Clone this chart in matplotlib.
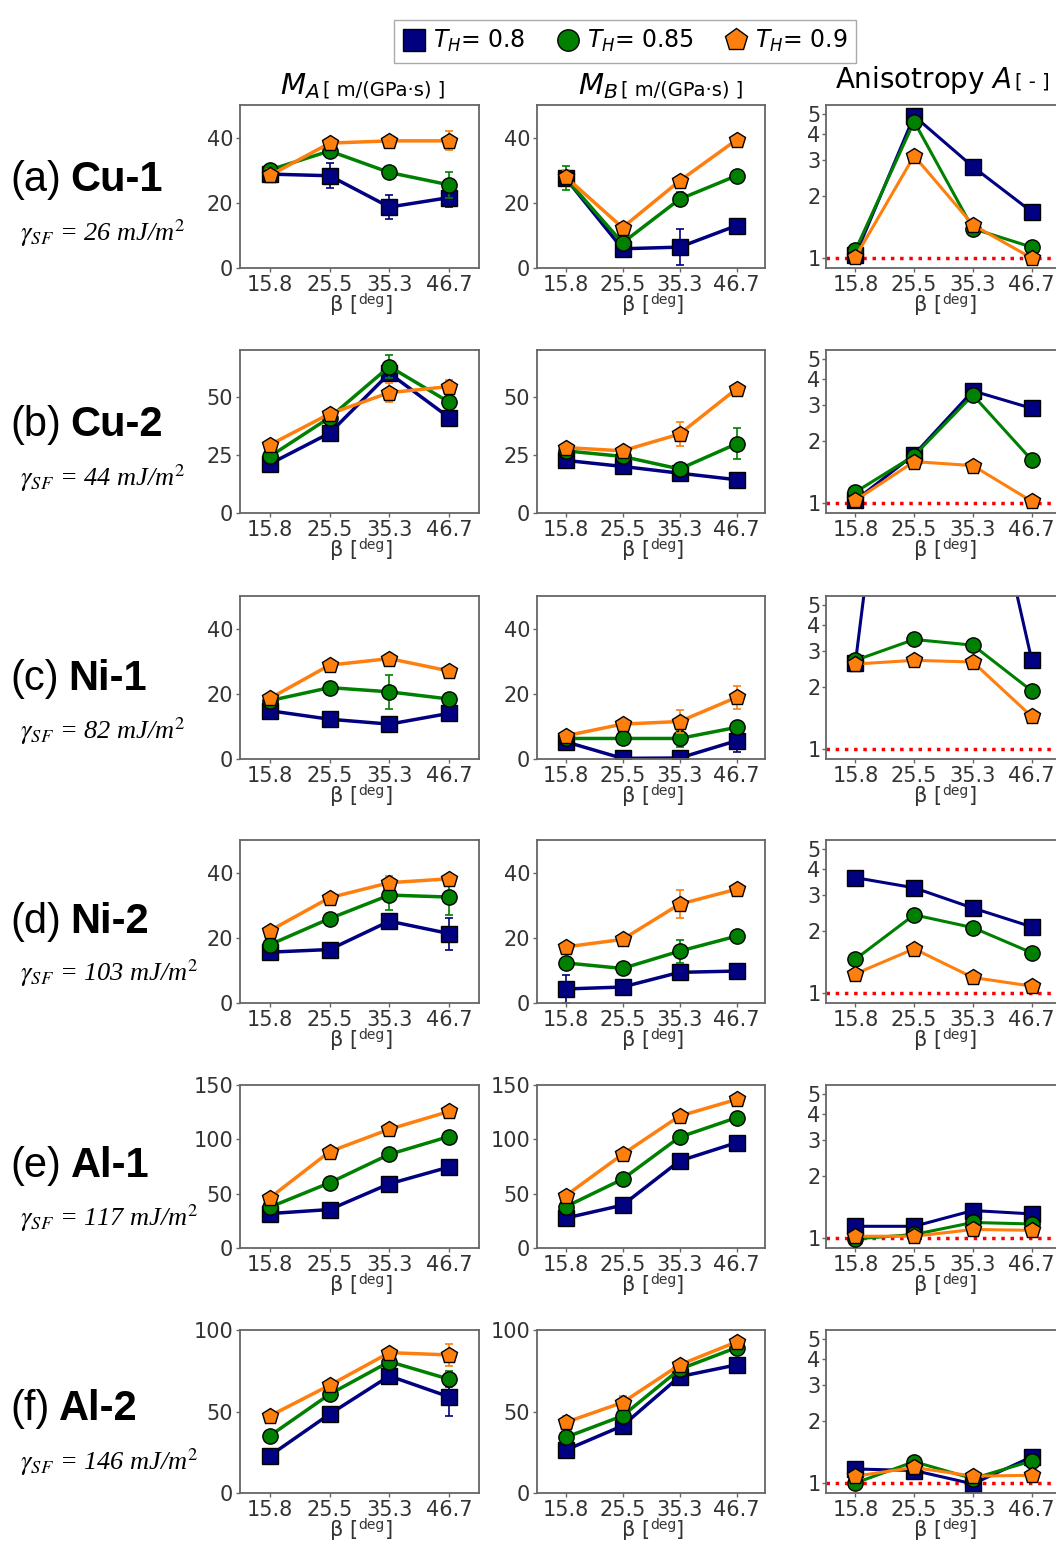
import matplotlib.pyplot as plt
from matplotlib.lines import Line2D
from matplotlib.text import Annotation
from matplotlib.ticker import NullFormatter, NullLocator
from matplotlib.transforms import offset_copy
import numpy as np

plt.rcParams['mathtext.fontset'] = 'dejavusans'

# categories
beta_labels = ['15.8', '25.5', '35.3', '46.7']
th_labels = ['$T_H$= 0.8', '$T_H$= 0.85', '$T_H$= 0.9']
samples = ['Cu-1', 'Cu-2', 'Ni-1', 'Ni-2', 'Al-1', 'Al-2']
tags = ['(a)', '(b)', '(c)', '(d)', '(e)', '(f)']
gamma_sf = [26, 44, 82, 103, 117, 146]

# M_A [m/(GPa s)], rows: T_H = 0.8, 0.85, 0.9
ma_vals = {
    'Cu-1': [[28.8, 28.3, 18.7, 21.6], [30.1, 35.9, 29.3, 25.5], [28.4, 38.3, 39.0, 39.0]],
    'Cu-2': [[21.1, 34.3, 60.0, 41.0], [24.3, 41.0, 62.9, 47.6], [29.3, 42.6, 51.7, 54.3]],
    'Ni-1': [[14.8, 12.2, 10.7, 14.0], [17.9, 21.9, 20.6, 18.4], [18.6, 28.8, 30.8, 27.0]],
    'Ni-2': [[15.6, 16.4, 25.1, 21.3], [17.9, 25.9, 33.1, 32.5], [22.2, 32.3, 36.9, 38.1]],
    'Al-1': [[31.7, 35.4, 59.1, 74.5], [37.6, 60.0, 86.2, 102.6], [46.2, 88.7, 109.3, 125.7]],
    'Al-2': [[22.9, 48.4, 71.8, 59.0], [35.1, 60.6, 80.6, 69.8], [47.3, 66.1, 86.1, 84.7]],
}
ma_errs = {
    'Cu-1': [[1.0, 3.8, 3.7, 2.8], [0, 0, 1.5, 3.9], [2.0, 0, 0, 2.9]],
    'Cu-2': [[1.5, 2.5, 3.0, 0], [2.5, 0, 5.0, 0], [0, 0, 4.0, 3.0]],
    'Ni-1': [[0, 0, 0, 0], [0, 0, 5.3, 0], [0, 0, 0, 1.5]],
    'Ni-2': [[1.5, 0, 0, 4.9], [1.8, 0, 4.5, 5.5], [0, 0, 2.0, 0]],
    'Al-1': [[0, 0, 0, 0], [0, 0, 0, 0], [0, 0, 0, 0]],
    'Al-2': [[0, 0, 0, 12.0], [0, 0, 0, 5.0], [0, 0, 0, 6.5]],
}

# M_B [m/(GPa s)]
mb_vals = {
    'Cu-1': [[27.6, 5.9, 6.4, 13.0], [27.6, 7.7, 21.1, 28.3], [28.0, 12.4, 26.7, 39.3]],
    'Cu-2': [[22.6, 20.0, 17.1, 14.3], [26.7, 24.3, 18.9, 29.7], [28.1, 26.7, 33.9, 53.3]],
    'Ni-1': [[5.3, 0.2, 0.3, 5.6], [6.3, 6.3, 6.3, 9.7], [7.1, 10.7, 11.5, 18.9]],
    'Ni-2': [[4.3, 4.9, 9.4, 9.8], [12.3, 10.6, 15.9, 20.5], [17.2, 19.5, 30.3, 34.9]],
    'Al-1': [[27.5, 39.4, 80.1, 96.9], [37.9, 63.3, 102.0, 119.9], [48.0, 86.2, 121.4, 136.7]],
    'Al-2': [[26.3, 41.2, 71.4, 78.6], [34.1, 47.3, 75.9, 89.2], [43.3, 55.5, 78.6, 92.7]],
}
mb_errs = {
    'Cu-1': [[2.0, 0, 5.6, 0], [3.6, 0, 2.2, 0], [2.0, 0, 0, 0]],
    'Cu-2': [[0, 0, 0, 3.0], [0, 0, 0, 6.6], [0, 0, 5.2, 0]],
    'Ni-1': [[0, 0, 0, 3.5], [0, 0, 2.5, 0], [0, 0, 3.5, 3.6]],
    'Ni-2': [[4.2, 0, 0, 1.0], [0, 0, 3.5, 0], [0, 0, 4.3, 0]],
    'Al-1': [[0, 0, 0, 0], [0, 0, 0, 0], [0, 0, 0, 0]],
    'Al-2': [[0, 0, 0, 0], [0, 0, 0, 0], [4.0, 4.0, 0, 0]],
}

# Anisotropy A [-]
aniso = {
    'Cu-1': [[1.03, 4.91, 2.78, 1.68], [1.09, 4.61, 1.39, 1.13], [1.01, 3.14, 1.45, 1.00]],
    'Cu-2': [[1.03, 1.72, 3.51, 2.89], [1.13, 1.70, 3.35, 1.62], [1.03, 1.59, 1.52, 1.02]],
    'Ni-1': [[2.62, 500.0, 50.0, 2.72], [2.70, 3.41, 3.20, 1.92], [2.59, 2.70, 2.65, 1.44]],
    'Ni-2': [[3.64, 3.25, 2.59, 2.10], [1.46, 2.40, 2.08, 1.57], [1.24, 1.64, 1.19, 1.08]],
    'Al-1': [[1.14, 1.14, 1.36, 1.31], [0.99, 1.04, 1.19, 1.17], [1.02, 1.02, 1.10, 1.09]],
    'Al-2': [[1.17, 1.15, 0.99, 1.34], [1.00, 1.27, 1.05, 1.28], [1.08, 1.19, 1.08, 1.09]],
}

m_ylims = [50, 70, 50, 50, 150, 100]
m_yticks = [[0, 20, 40], [0, 25, 50], [0, 20, 40], [0, 20, 40], [0, 50, 100, 150], [0, 50, 100]]

colors = ['#000080', '#008000', '#ff7f0e']
markers = ['s', 'o', 'p']
msizes = [11.5, 11, 12]

W, H = 1056, 1544
fig = plt.figure(figsize=(W / 100, H / 100), dpi=100)


def fx(px):
    return px / W


def fy(py):
    return 1 - py / H


col_x = [(240, 479), (537, 765), (826, 1061)]
row_top = [105, 350, 596, 840, 1085, 1330]
ax_h = 163
tag_base = [191, 436, 690, 933, 1177, 1420]
gam_y = [233, 478, 731, 973, 1218, 1462]

x = np.arange(len(beta_labels))


def style_axes(ax):
    for s in ax.spines.values():
        s.set_color('#666666')
        s.set_linewidth(1.3)
    ax.tick_params(axis='both', labelsize=15, labelcolor='#333333', color='#666666',
                   direction='out', length=3, width=1, pad=2, top=False, right=False)
    ax.set_xlim(-0.5, 3.5)
    ax.set_xticks(x)
    ax.set_xticklabels(beta_labels)
    # x label: β [deg] with small raised "deg"
    ax.text(0.5, 0, 'β [', ha='right', va='baseline', fontsize=15, color='#333333',
            transform=offset_copy(ax.transAxes, fig=fig, x=-1, y=-43, units='dots'))
    ax.text(0.5, 0, 'deg', ha='center', va='baseline', fontsize=10, color='#333333',
            transform=offset_copy(ax.transAxes, fig=fig, x=12, y=-36, units='dots'))
    ax.text(0.5, 0, ']', ha='left', va='baseline', fontsize=15, color='#333333',
            transform=offset_copy(ax.transAxes, fig=fig, x=25, y=-43, units='dots'))


for r, name in enumerate(samples):
    top = row_top[r]
    for c in range(3):
        x0, x1 = col_x[c]
        ax = fig.add_axes([fx(x0), fy(top + ax_h), (x1 - x0) / W, ax_h / H])
        style_axes(ax)
        if c < 2:
            vals = ma_vals[name] if c == 0 else mb_vals[name]
            errs = ma_errs[name] if c == 0 else mb_errs[name]
            for k in range(3):
                ax.errorbar(x, vals[k], yerr=errs[k], fmt='none', ecolor=colors[k],
                            elinewidth=1.2, capsize=3, capthick=1.2, zorder=2 + k)
                ax.plot(x, vals[k], color=colors[k], lw=2.5, marker=markers[k],
                        ms=msizes[k], mfc=colors[k], mec='black', mew=1, zorder=2.5 + k)
            ax.set_ylim(0, m_ylims[r])
            ax.set_yticks(m_yticks[r])
        else:
            ax.axhline(1, color='red', ls=':', lw=2.5, zorder=1)
            for k in range(3):
                ax.plot(x, aniso[name][k], color=colors[k], lw=2.2, marker=markers[k],
                        ms=msizes[k], mfc=colors[k], mec='black', mew=1, zorder=2 + k)
            ax.set_yscale('log')
            ax.set_ylim(0.894, 5.55)
            ax.yaxis.set_minor_locator(NullLocator())
            ax.yaxis.set_minor_formatter(NullFormatter())
            ax.set_yticks([1, 2, 3, 4, 5])
            ax.set_yticklabels(['1', '2', '3', '4', '5'])
            ax.tick_params(axis='y', pad=1)

    t = fig.text(fx(10), fy(tag_base[r]), tags[r], fontsize=30, family='Liberation Sans',
                 va='baseline', ha='left')
    fig.add_artist(Annotation(name, xy=(1, fy(tag_base[r])), xycoords=(t, 'figure fraction'),
                              xytext=(7, 0), textcoords='offset points', fontsize=30,
                              family='Liberation Sans', fontweight='bold',
                              va='baseline', ha='left'))
    fig.text(fx(20), fy(gam_y[r]), r'$\gamma_{SF}$ = %d mJ/m$^2$' % gamma_sf[r],
             fontsize=19, family='Liberation Serif', style='italic', va='center', ha='left',
             math_fontfamily='stix')

# column titles
fig.text(fx(320), fy(94), '$M_A$', fontsize=21, ha='right', va='baseline')
fig.text(fx(323), fy(95), '[ m/(GPa·s) ]', fontsize=14, ha='left', va='baseline')
fig.text(fx(618), fy(94), '$M_B$', fontsize=21, ha='right', va='baseline')
fig.text(fx(621), fy(95), '[ m/(GPa·s) ]', fontsize=14, ha='left', va='baseline')
fig.text(fx(835), fy(88), 'Anisotropy $A$', fontsize=20, ha='left', va='baseline')
fig.text(fx(1015), fy(88), '[ - ]', fontsize=14, ha='left', va='baseline')

handles = [Line2D([], [], ls='none', marker=markers[k], ms=msizes[k] * 1.4, mfc=colors[k],
                  mec='black', mew=1) for k in range(3)]
fig.legend(handles, th_labels, loc='upper center', bbox_to_anchor=(fx(625), fy(8)), ncol=3,
           fancybox=False, edgecolor='#aaaaaa', fontsize=17, handlelength=1.0,
           handletextpad=0.3, columnspacing=1.3, borderpad=0.35, framealpha=1)

fig.savefig('out.png', dpi=100)
